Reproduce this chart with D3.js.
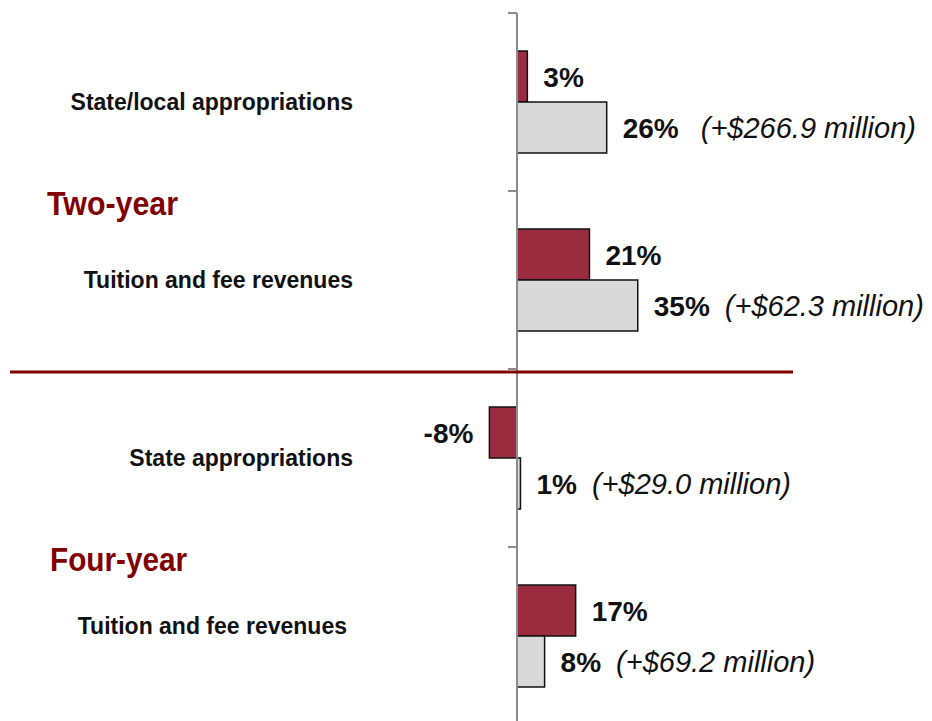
<!DOCTYPE html>
<html>
<head>
<meta charset="utf-8">
<script src="https://cdn.jsdelivr.net/npm/d3@7"></script>
<style>
  html, body { margin: 0; padding: 0; background: #fff; }
  svg { display: block; font-family: "Liberation Sans", Arial, sans-serif; }
</style>
</head>
<body>
<div id="chart"></div>
<script>
// data
const categories = ["State/local appropriations", "Tuition and fee revenues", "State appropriations", "Tuition and fee revenues"];
const sectors = ["Two-year", "Two-year", "Four-year", "Four-year"];
const groups = ["Two-year", "Four-year"];
const changeA = [3, 21, -8, 17];      // red bars
const changeB = [26, 35, 1, 8];       // gray bars
const dollars = ["(+$266.9 million)", "(+$62.3 million)", "(+$29.0 million)", "(+$69.2 million)"];

const WIDTH = 932, HEIGHT = 721;
const RED = "#9b2c40", GRAY = "#d9d9d9", DARK_RED = "#800000", AXIS = "#8c8c8c";

const svg = d3.select("#chart").append("svg")
  .attr("width", WIDTH)
  .attr("height", HEIGHT);

const x = d3.scaleLinear().domain([-10, 40]).range([482.5, 655]);
const y = d3.scaleBand()
  .domain(d3.range(categories.length))
  .range([13, 725])
  .paddingInner(0.427)
  .paddingOuter(0.2135);
const sub = d3.scaleBand().domain(["a", "b"]).range([0, y.bandwidth()]);

const gap = (y.step() - y.bandwidth()) / 2;
const tickY = i => y(i) - gap;

const rows = categories.map((c, i) => ({
  i, name: c, sector: sectors[i], a: changeA[i], b: changeB[i], dollars: dollars[i]
}));

// bars
const row = svg.append("g").selectAll("g")
  .data(rows)
  .enter().append("g")
  .attr("transform", d => "translate(0," + y(d.i) + ")");

row.append("rect")
  .attr("x", d => x(Math.min(0, d.a)))
  .attr("y", sub("a"))
  .attr("width", d => Math.abs(x(d.a) - x(0)))
  .attr("height", sub.bandwidth())
  .style("fill", RED)
  .style("stroke", "#111")
  .style("stroke-width", 1.5);

row.append("rect")
  .attr("x", d => x(Math.min(0, d.b)))
  .attr("y", sub("b"))
  .attr("width", d => Math.abs(x(d.b) - x(0)))
  .attr("height", sub.bandwidth())
  .style("fill", GRAY)
  .style("stroke", "#111")
  .style("stroke-width", 1.5);

// value labels
row.append("text")
  .attr("x", d => d.a < 0 ? x(d.a) - 16 : x(d.a) + 16)
  .attr("y", sub("a") + sub.bandwidth() / 2)
  .attr("dy", "0.36em")
  .attr("text-anchor", d => d.a < 0 ? "end" : "start")
  .style("font-weight", "bold")
  .style("font-size", "28px")
  .style("fill", "#111")
  .text(d => d.a + "%");

const bl = row.append("text")
  .attr("x", d => x(d.b) + 16)
  .attr("y", sub("b") + sub.bandwidth() / 2)
  .attr("dy", "0.36em")
  .style("font-size", "28px")
  .style("fill", "#111");
bl.append("tspan")
  .style("font-weight", "bold")
  .text(d => d.b + "%");
bl.append("tspan")
  .attr("dx", d => d.i === 0 ? 22 : 15)
  .style("font-style", "italic")
  .style("font-size", "29px")
  .text(d => d.dollars);

// category labels
row.append("text")
  .attr("x", d => d.i === 3 ? 347 : 353)
  .attr("y", y.bandwidth() / 2)
  .attr("dy", d => d.i === 3 ? "-0.08em" : "0.33em")
  .attr("text-anchor", "end")
  .style("font-weight", "bold")
  .style("font-size", "23px")
  .style("fill", "#111")
  .text(d => d.name);

// axis
const ax = svg.append("g");
ax.append("line")
  .attr("x1", x(0)).attr("x2", x(0))
  .attr("y1", tickY(0)).attr("y2", HEIGHT)
  .style("stroke", AXIS).style("stroke-width", 2);
ax.selectAll(".tick")
  .data(d3.range(categories.length))
  .enter().append("line")
  .attr("x1", x(0) - 9).attr("x2", x(0))
  .attr("y1", d => tickY(d)).attr("y2", d => tickY(d))
  .style("stroke", AXIS).style("stroke-width", 2);

// separator between sectors
svg.append("line")
  .attr("x1", 10).attr("x2", 793)
  .attr("y1", tickY(2) + 3).attr("y2", tickY(2) + 3)
  .style("stroke", DARK_RED).style("stroke-width", 3);

// sector labels
svg.append("g").selectAll("text")
  .data(groups)
  .enter().append("text")
  .attr("x", (d, k) => k === 0 ? 47 : 50)
  .attr("y", d => tickY(sectors.indexOf(d) + 1) + 24)
  .attr("textLength", (d, k) => k === 0 ? 131 : 137)
  .attr("lengthAdjust", "spacingAndGlyphs")
  .style("font-weight", "bold")
  .style("font-size", "34px")
  .style("fill", DARK_RED)
  .text(d => d);
</script>
</body>
</html>
